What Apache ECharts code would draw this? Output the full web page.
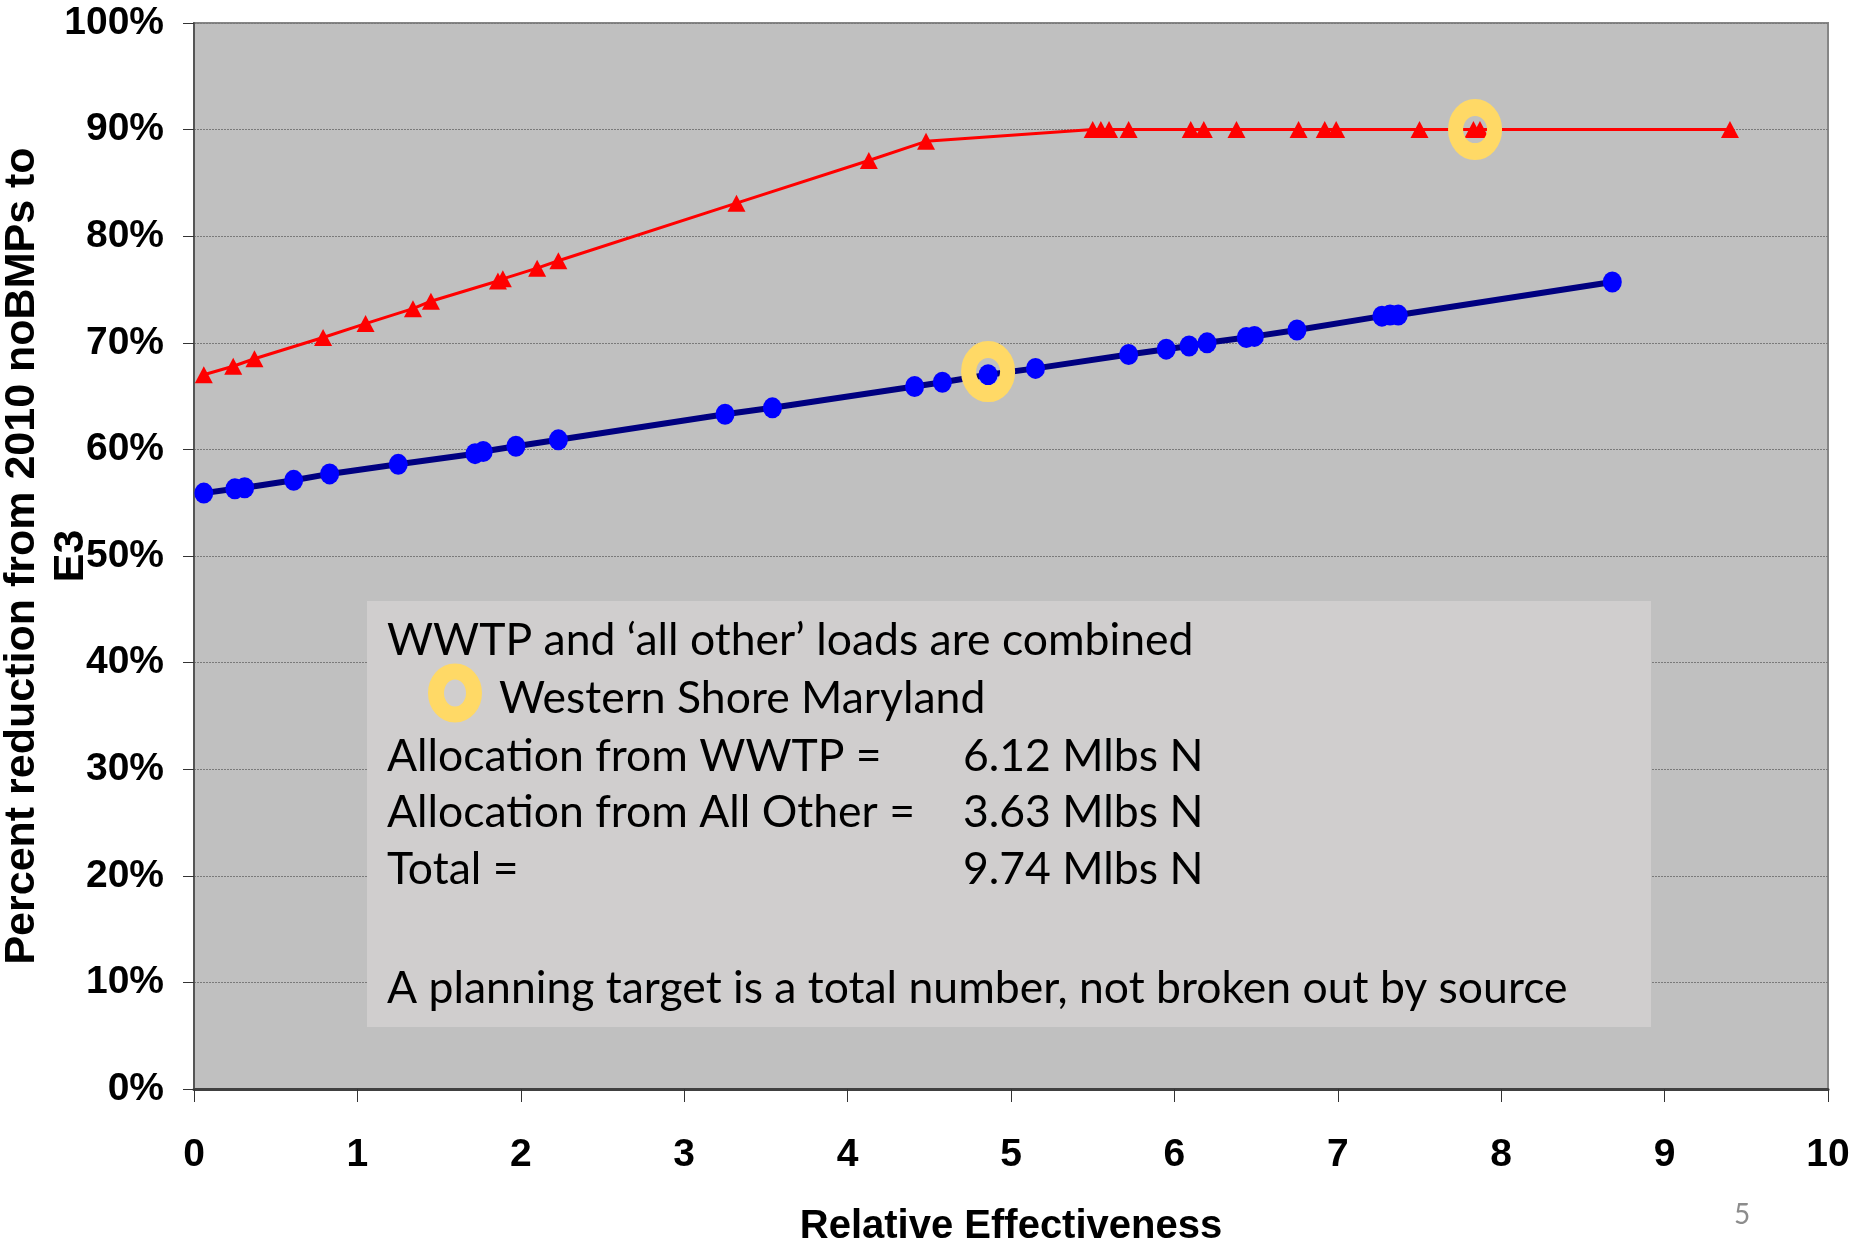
<!DOCTYPE html>
<html>
<head>
<meta charset="utf-8">
<title>Percent reduction vs Relative Effectiveness</title>
<script src="https://cdn.jsdelivr.net/npm/echarts@6/dist/echarts.min.js"></script>
<style>
  html, body { margin: 0; padding: 0; background: #ffffff; }
  #chart { width: 1864px; height: 1253px; }
</style>
</head>
<body>
<div id="chart"></div>
<script>
// Upper curve (red triangles): relative effectiveness vs percent reduction
const upperX = [0.06, 0.24, 0.37, 0.79, 1.05, 1.34, 1.45, 1.86, 1.89, 2.10, 2.23, 3.32, 4.13, 4.48,
                5.50, 5.55, 5.60, 5.72, 6.10, 6.18, 6.38, 6.76, 6.92, 6.99, 7.50, 7.83, 7.87, 9.40];
const upperY = [67.0, 67.8, 68.5, 70.5, 71.8, 73.2, 73.9, 75.8, 76.0, 77.0, 77.7, 83.1, 87.1, 88.9,
                90.0, 90.0, 90.0, 90.0, 90.0, 90.0, 90.0, 90.0, 90.0, 90.0, 90.0, 90.0, 90.0, 90.0];

// Lower curve (blue circles)
const lowerX = [0.06, 0.25, 0.31, 0.61, 0.83, 1.25, 1.72, 1.77, 1.97, 2.23, 3.25, 3.54, 4.41, 4.58,
                4.86, 5.15, 5.72, 5.95, 6.09, 6.20, 6.44, 6.49, 6.75, 7.27, 7.32, 7.37, 8.68];
const lowerY = [55.9, 56.3, 56.4, 57.1, 57.7, 58.6, 59.6, 59.8, 60.3, 60.9, 63.3, 63.9, 65.9, 66.3,
                67.0, 67.6, 68.9, 69.4, 69.7, 70.0, 70.5, 70.6, 71.2, 72.5, 72.6, 72.6, 75.7];

// Western Shore Maryland highlights
const highlightX = [4.86, 7.84];
const highlightY = [67.3, 90.0];

// Axis setup
const xMin = 0, xMax = 10, xStep = 1;
const yMin = 0, yMax = 100, yStep = 10;

// Annotation text
const noteLines = [
  'WWTP and \u2018all other\u2019 loads are combined',
  'Western Shore Maryland',
  'Allocation from WWTP =',
  'Allocation from All Other =',
  'Total =',
  'A planning target is a total number, not broken out by source'
];
const noteValues = ['6.12 Mlbs N', '3.63 Mlbs N', '9.74 Mlbs N'];
const pageNumber = '5';

const zip = (xs, ys) => xs.map((x, i) => [x, ys[i]]);

const AXIS_FONT = '"Liberation Sans", Arial, sans-serif';
const NOTE_FONT = 'Lato, "Open Sans", sans-serif';
const RING = '#FFD966';

const chart = echarts.init(document.getElementById('chart'), null, { renderer: 'canvas' });

const noteLeft = 387;
const noteValueLeft = 963;
const noteFontSize = 44.5;

const noteText = (x, y, text) => ({
  type: 'text', x, y, z: 11,
  style: { text, font: `${noteFontSize}px ${NOTE_FONT}`, fill: '#000', verticalAlign: 'middle' }
});

chart.setOption({
  animation: false,
  backgroundColor: '#ffffff',
  grid: {
    left: 194, right: 36, top: 23, bottom: 164,
    containLabel: false,
    outerBoundsMode: 'none',
    show: true,
    backgroundColor: '#C0C0C0',
    borderColor: '#868686',
    borderWidth: 2
  },
  xAxis: {
    type: 'value',
    min: xMin, max: xMax, interval: xStep,
    name: 'Relative Effectiveness',
    nameLocation: 'middle',
    nameGap: 118,
    nameMoveOverlap: false,
    nameTextStyle: { fontFamily: AXIS_FONT, fontWeight: 'bold', fontSize: 40, color: '#000' },
    axisLine: { show: true, onZero: false, lineStyle: { color: '#404040', width: 3 } },
    axisTick: { show: true, length: 13, lineStyle: { color: '#333', width: 1 } },
    axisLabel: { margin: 47, fontFamily: AXIS_FONT, fontWeight: 'bold', fontSize: 39, color: '#000' },
    splitLine: { show: false }
  },
  yAxis: {
    type: 'value',
    min: yMin, max: yMax, interval: yStep,
    name: 'Percent reduction from 2010 noBMPs to\nE3',
    nameLocation: 'middle',
    nameRotate: 90,
    nameGap: 98,
    nameMoveOverlap: false,
    nameTextStyle: { fontFamily: AXIS_FONT, fontWeight: 'bold', fontSize: 43, lineHeight: 49, color: '#000', align: 'center' },
    axisLine: { show: true, lineStyle: { color: '#555', width: 2 } },
    axisTick: { show: true, length: 11, lineStyle: { color: '#333', width: 1 } },
    axisLabel: {
      margin: 30, fontFamily: AXIS_FONT, fontWeight: 'bold', fontSize: 39, color: '#000',
      formatter: v => v + '%'
    },
    splitLine: { show: true, lineStyle: { color: '#7a7a7a', width: 1, type: [2, 1] } }
  },
  series: [
    {
      name: 'upper',
      type: 'line',
      data: zip(upperX, upperY),
      symbol: 'triangle',
      symbolSize: [18, 17],
      showAllSymbol: true,
      lineStyle: { color: '#FF0000', width: 3 },
      itemStyle: { color: '#FF0000' },
      z: 3
    },
    {
      name: 'lower',
      type: 'line',
      data: zip(lowerX, lowerY),
      symbol: 'circle',
      symbolSize: [19, 21],
      showAllSymbol: true,
      lineStyle: { color: '#000080', width: 6 },
      itemStyle: { color: '#0000FF' },
      z: 3
    },
    {
      name: 'Western Shore Maryland',
      type: 'scatter',
      data: zip(highlightX, highlightY),
      symbol: 'circle',
      symbolSize: [39, 44],
      itemStyle: { color: 'rgba(0,0,0,0)', borderColor: RING, borderWidth: 16, opacity: 1 },
      z: 5
    }
  ],
  graphic: [
    {
      type: 'rect',
      shape: { x: 367, y: 601, width: 1284, height: 426 },
      style: { fill: '#D0CECE' },
      z: 10
    },
    noteText(noteLeft, 641, noteLines[0]),
    { type: 'ellipse', shape: { cx: 455, cy: 693, rx: 19, ry: 21.5 }, z: 11,
      style: { fill: 'none', stroke: RING, lineWidth: 16 } },
    noteText(499, 699, noteLines[1]),
    noteText(noteLeft, 757, noteLines[2]),
    noteText(noteValueLeft, 757, noteValues[0]),
    noteText(noteLeft, 813, noteLines[3]),
    noteText(noteValueLeft, 813, noteValues[1]),
    noteText(noteLeft, 870, noteLines[4]),
    noteText(noteValueLeft, 870, noteValues[2]),
    noteText(noteLeft, 989, noteLines[5]),
    { type: 'text', x: 1742, y: 1215, z: 11,
      style: { text: pageNumber, font: `28px ${NOTE_FONT}`, fill: '#8C8C8C', align: 'center', verticalAlign: 'middle' } }
  ]
});
</script>
</body>
</html>
